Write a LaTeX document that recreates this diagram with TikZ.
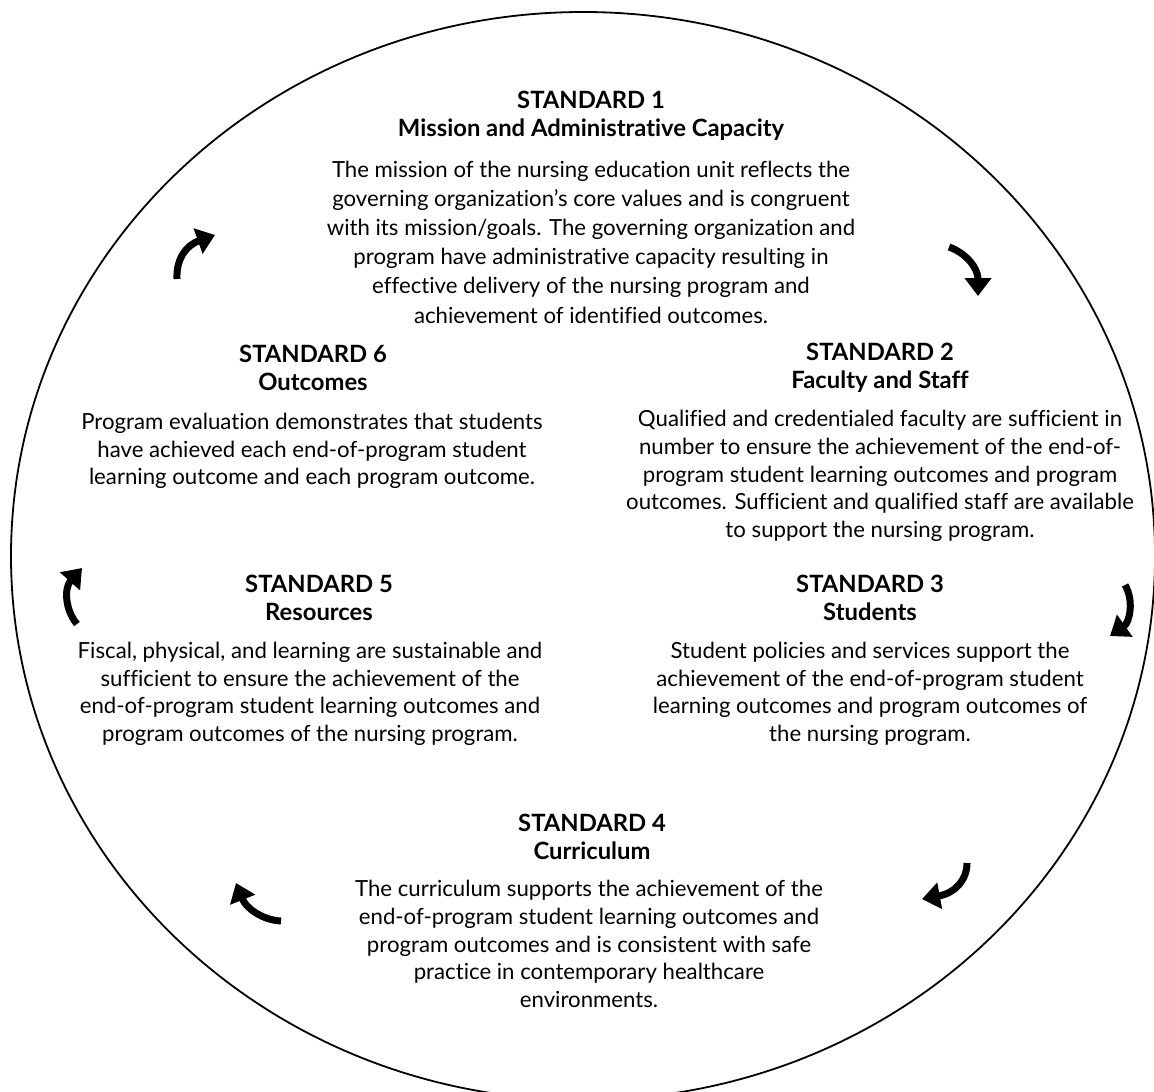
\documentclass[tikz,border=0pt]{standalone}
\usepackage{fontspec}
\setmainfont{Lato}[Ligatures=CommonOff]
\usetikzlibrary{arrows.meta}
\begin{document}
\begin{tikzpicture}[x=0.5pt,y=-0.5pt,
  title/.style={font=\bfseries\fontsize{11.9}{14}\selectfont, align=center, inner sep=0pt},
  body/.style={font=\fontsize{11.1}{13.8}\selectfont, align=center, inner sep=0pt},
  bodywide/.style={font=\fontsize{11.1}{14.6}\selectfont, align=center, inner sep=0pt},
  cyc/.style={line width=3.5pt, -{Triangle[width=13pt,length=9pt]}},
  ring/.style={line width=0.9pt}]
\useasboundingbox (0,0) rectangle (1154,1091);
\begin{scope}
\clip (0,0) rectangle (1154,1091);
\coordinate (ctr) at (583,556);
\draw[ring] (ctr) ellipse [x radius=286pt, y radius=272pt];
\end{scope}

\node[title] (s1t) at (591,116) {STANDARD 1\\Mission and Administrative Capacity};
\node[bodywide] (s1b) at (591,242) {The mission of the nursing education unit reflects the\\governing organization’s core values and is congruent\\with its mission/goals. The governing organization and\\program have administrative capacity resulting in\\effective delivery of the nursing program and\\achievement of identified outcomes.};

\node[title] (s6t) at (313,368) {STANDARD 6\\Outcomes};
\node[body] (s6b) at (312,451) {Program evaluation demonstrates that students\\have achieved each end-of-program student\\learning outcome and each program outcome.};

\node[title] (s2t) at (880,368) {STANDARD 2\\Faculty and Staff};
\node[body] (s2b) at (880,476) {Qualified and credentialed faculty are sufficient in\\number to ensure the achievement of the end-of-\\program student learning outcomes and program\\outcomes. Sufficient and qualified staff are available\\to support the nursing program.};

\node[title] (s5t) at (319,598) {STANDARD 5\\Resources};
\node[body] (s5b) at (310,694) {Fiscal, physical, and learning are sustainable and\\sufficient to ensure the achievement of the\\end-of-program student learning outcomes and\\program outcomes of the nursing program.};

\node[title] (s3t) at (870,598) {STANDARD 3\\Students};
\node[body] (s3b) at (870,694) {Student policies and services support the\\achievement of the end-of-program student\\learning outcomes and program outcomes of\\the nursing program.};

\node[title] (s4t) at (592,837) {STANDARD 4\\Curriculum};
\node[body] (s4b) at (589,944) {The curriculum supports the achievement of the\\end-of-program student learning outcomes and\\program outcomes and is consistent with safe\\practice in contemporary healthcare\\environments.};

% cycle arrows
\coordinate (a1s) at (177,279); \coordinate (a1e) at (215,235);
\coordinate (a2s) at (949,247); \coordinate (a2e) at (978,296);
\coordinate (a3s) at (1125,585); \coordinate (a3e) at (1110,636);
\coordinate (a4s) at (967,863); \coordinate (a4e) at (922,899);
\coordinate (a5s) at (281,921); \coordinate (a5e) at (236,883);
\coordinate (a6s) at (77,624); \coordinate (a6e) at (82,568);
\draw[cyc] (a1s) .. controls (176,258) and (187,245) .. (a1e);
\draw[cyc] (a2s) .. controls (966,253) and (978,268) .. (a2e);
\draw[cyc] (a3s) .. controls (1134,600) and (1130,622) .. (a3e);
\draw[cyc] (a4s) .. controls (967,880) and (955,893) .. (a4e);
\draw[cyc] (a5s) .. controls (262,920) and (246,908) .. (a5e);
\draw[cyc] (a6s) .. controls (65,610) and (64,588) .. (a6e);
\end{tikzpicture}
\end{document}
